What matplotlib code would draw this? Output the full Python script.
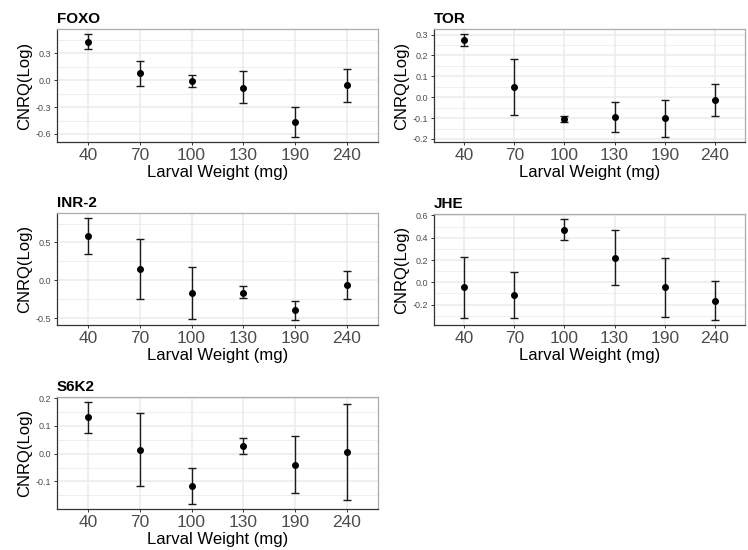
import matplotlib
matplotlib.use("Agg")
import matplotlib.pyplot as plt
from matplotlib.ticker import FixedLocator, FormatStrFormatter

plt.rcParams['font.family'] = ['Liberation Sans', 'DejaVu Sans']

weights = ['40', '70', '100', '130', '190', '240']

foxo_mean = [0.424, 0.078, -0.007, -0.082, -0.468, -0.056]
foxo_low = [0.346, -0.067, -0.078, -0.260, -0.632, -0.238]
foxo_high = [0.513, 0.219, 0.056, 0.100, -0.300, 0.126]
foxo_ticks = [-0.6, -0.3, 0.0, 0.3]

tor_mean = [0.273, 0.050, -0.104, -0.094, -0.102, -0.014]
tor_low = [0.243, -0.085, -0.118, -0.168, -0.190, -0.091]
tor_high = [0.302, 0.182, -0.091, -0.024, -0.014, 0.061]
tor_ticks = [-0.2, -0.1, 0.0, 0.1, 0.2, 0.3]

inr2_mean = [0.587, 0.148, -0.170, -0.161, -0.396, -0.065]
inr2_low = [0.352, -0.243, -0.513, -0.235, -0.522, -0.252]
inr2_high = [0.822, 0.543, 0.178, -0.078, -0.270, 0.126]
inr2_ticks = [-0.5, 0.0, 0.5]

jhe_mean = [-0.044, -0.118, 0.474, 0.221, -0.044, -0.168]
jhe_low = [-0.318, -0.324, 0.379, -0.024, -0.312, -0.338]
jhe_high = [0.226, 0.091, 0.568, 0.468, 0.221, 0.009]
jhe_ticks = [-0.2, 0.0, 0.2, 0.4, 0.6]

s6k2_mean = [0.131, 0.015, -0.115, 0.029, -0.039, 0.007]
s6k2_low = [0.076, -0.117, -0.181, 0.000, -0.142, -0.167]
s6k2_high = [0.186, 0.148, -0.051, 0.057, 0.063, 0.179]
s6k2_ticks = [-0.1, 0.0, 0.1, 0.2]

panels = [
    ('FOXO', foxo_mean, foxo_low, foxo_high, foxo_ticks),
    ('TOR', tor_mean, tor_low, tor_high, tor_ticks),
    ('INR-2', inr2_mean, inr2_low, inr2_high, inr2_ticks),
    ('JHE', jhe_mean, jhe_low, jhe_high, jhe_ticks),
    ('S6K2', s6k2_mean, s6k2_low, s6k2_high, s6k2_ticks),
]

W, H = 748, 550
fig = plt.figure(figsize=(W / 100, H / 100), dpi=100)
fig.patch.set_facecolor('white')

# pixel boxes: left, top, right, bottom
boxes = [
    (57, 29, 378, 142),
    (434, 29, 745, 142),
    (57, 213, 378, 325),
    (434, 214, 745, 325),
    (57, 397, 378, 509),
]

grid_col = '#EBEBEB'
for (name, mean, low, high, ticks), (l, t, r, b) in zip(panels, boxes):
    ax = fig.add_axes([l / W, 1 - b / H, (r - l) / W, (b - t) / H])
    x = list(range(len(weights)))
    yerr = [[m - lo for m, lo in zip(mean, low)], [hi - m for m, hi in zip(mean, high)]]
    ax.errorbar(x, mean, yerr=yerr, fmt='o', color='black', ms=4.0,
                ecolor='#1a1a1a', elinewidth=1.0, capsize=2.6, capthick=1.0, zorder=3)
    ax.set_xlim(-0.6, len(weights) - 0.4)
    lo_all, hi_all = min(low), max(high)
    rng = hi_all - lo_all
    ax.set_ylim(lo_all - 0.05 * rng, hi_all + 0.05 * rng)
    ax.set_xticks(x)
    ax.set_xticklabels(weights)
    ax.yaxis.set_major_locator(FixedLocator(ticks))
    step = ticks[1] - ticks[0]
    minors = [ticks[0] - step / 2] + [tk + step / 2 for tk in ticks]
    ax.yaxis.set_minor_locator(FixedLocator(minors))
    ax.yaxis.set_major_formatter(FormatStrFormatter('%.1f'))
    ax.grid(True, which='major', color=grid_col, lw=1.1, zorder=0)
    ax.grid(True, which='minor', axis='y', color=grid_col, lw=0.55, zorder=0)
    ax.set_axisbelow(True)
    for side in ('top', 'right'):
        ax.spines[side].set_color('#ABABAB')
        ax.spines[side].set_linewidth(0.9)
    for side in ('left', 'bottom'):
        ax.spines[side].set_color('#333333')
        ax.spines[side].set_linewidth(0.9)
    ax.tick_params(axis='x', labelsize=12.5, labelcolor='#4D4D4D', color='#333333',
                   length=2.5, width=0.7, pad=1.5)
    ax.tick_params(axis='y', labelsize=6.5, labelcolor='#4D4D4D', color='#333333',
                   length=2.5, width=0.7, pad=1.5)
    ax.tick_params(axis='y', which='minor', length=0)
    ax.set_xlabel('Larval Weight (mg)', fontsize=12, color='black', labelpad=2)
    ax.set_ylabel('CNRQ(Log)', fontsize=12, color='black', labelpad=3)
    ax.set_title(name, loc='left', fontsize=11, fontweight='bold', pad=4)

fig.savefig('out.png', dpi=100)
